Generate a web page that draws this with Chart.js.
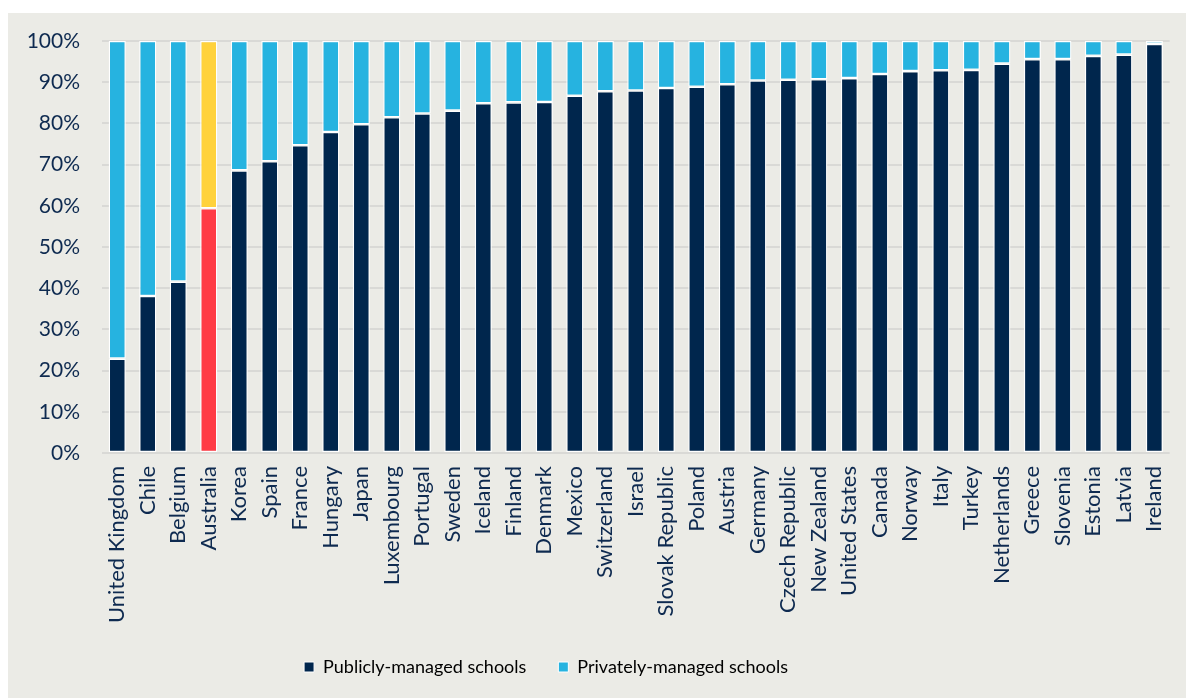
<!DOCTYPE html>
<html>
<head>
<meta charset="utf-8">
<script src="https://cdn.jsdelivr.net/npm/chart.js@4.4.1/dist/chart.umd.min.js"></script>
<style>
  html, body { margin: 0; padding: 0; background: #ffffff; }
  #wrap { position: absolute; left: 8px; top: 13px; width: 1178px; height: 685px; background: #ebebe6; }
  canvas { display: block; }
</style>
</head>
<body>
<div id="wrap"><canvas id="chart" width="1178" height="685"></canvas></div>
<script>
// Countries, ordered by share of students in publicly-managed schools
const countries = [
  "United Kingdom", "Chile", "Belgium", "Australia", "Korea", "Spain", "France",
  "Hungary", "Japan", "Luxembourg", "Portugal", "Sweden", "Iceland", "Finland",
  "Denmark", "Mexico", "Switzerland", "Israel", "Slovak Republic", "Poland",
  "Austria", "Germany", "Czech Republic", "New Zealand", "United States", "Canada",
  "Norway", "Italy", "Turkey", "Netherlands", "Greece", "Slovenia", "Estonia",
  "Latvia", "Ireland"
];

// Share of students in publicly-managed schools (%)
const publicShare = [
  22.9, 38.1, 41.6, 59.4, 68.6, 70.8, 74.7,
  77.9, 79.8, 81.5, 82.4, 83.1, 84.9, 85.1,
  85.2, 86.7, 87.8, 88.0, 88.6, 88.9,
  89.5, 90.4, 90.6, 90.7, 91.0, 92.0,
  92.7, 92.9, 93.0, 94.5, 95.6, 95.6, 96.4,
  96.7, 99.3
];

// Share of students in privately-managed schools (%)
const privateShare = [
  77.1, 61.9, 58.4, 40.6, 31.4, 29.2, 25.3,
  22.1, 20.2, 18.5, 17.6, 16.9, 15.1, 14.9,
  14.8, 13.3, 12.2, 12.0, 11.4, 11.1,
  10.5, 9.6, 9.4, 9.3, 9.0, 8.0,
  7.3, 7.1, 7.0, 5.5, 4.4, 4.4, 3.6,
  3.3, 0.7
];

const yTicks = [0, 10, 20, 30, 40, 50, 60, 70, 80, 90, 100];

const highlighted = "Australia";
const NAVY = "#00264d";
const SKY = "#26b3e0";
const RED = "#ff3b45";
const YELLOW = "#ffd23c";
const TEXT = "#0e2a50";
const FONT = "Lato, 'Open Sans', sans-serif";

function colourFor(base, accent) {
  return (ctx) => (ctx.dataIndex !== undefined && countries[ctx.dataIndex] === highlighted) ? accent : base;
}

// Sits the legend a little left of the canvas centre
const legendOffset = {
  id: "legendOffset",
  afterLayout(chart) {
    if (chart.legend) chart.legend.right -= 86;
  }
};

new Chart(document.getElementById("chart"), {
  type: "bar",
  data: {
    labels: countries,
    datasets: [
      {
        label: "Publicly-managed schools",
        data: publicShare,
        backgroundColor: colourFor(NAVY, RED),
        borderColor: "#ffffff",
        borderWidth: 1.3,
        borderSkipped: false,
        barPercentage: 0.56,
        categoryPercentage: 1.0
      },
      {
        label: "Privately-managed schools",
        data: privateShare,
        backgroundColor: colourFor(SKY, YELLOW),
        borderColor: "#ffffff",
        borderWidth: 1.3,
        borderSkipped: false,
        barPercentage: 0.56,
        categoryPercentage: 1.0
      }
    ]
  },
  plugins: [legendOffset],
  options: {
    responsive: false,
    animation: false,
    devicePixelRatio: 1,
    layout: { padding: { top: 28, right: 16, left: 0, bottom: 12 } },
    plugins: {
      tooltip: { enabled: false },
      legend: {
        position: "bottom",
        labels: {
          color: TEXT,
          font: { family: FONT, size: 18 },
          boxWidth: 10,
          boxHeight: 10,
          padding: 32,
          generateLabels: (chart) => chart.data.datasets.map((ds, i) => ({
            text: ds.label,
            fillStyle: i === 0 ? NAVY : SKY,
            strokeStyle: "#ffffff",
            lineWidth: 1,
            datasetIndex: i
          }))
        }
      }
    },
    scales: {
      x: {
        stacked: true,
        grid: { display: false },
        border: { display: false },
        ticks: {
          color: TEXT,
          font: { family: FONT, size: 22 },
          minRotation: 90,
          maxRotation: 90,
          autoSkip: false,
          padding: 5
        },
        afterFit: (scale) => { scale.height = 173; }
      },
      y: {
        stacked: true,
        min: 0,
        max: 100,
        afterBuildTicks: (scale) => { scale.ticks = yTicks.map(v => ({ value: v })); },
        grid: { color: "#d9d9d6", lineWidth: 2, drawTicks: false },
        border: { display: false },
        ticks: {
          color: TEXT,
          font: { family: FONT, size: 21 },
          padding: 22,
          callback: (v) => v + "%"
        },
        afterFit: (scale) => {
          scale.width = 94;
          scale.paddingTop = 0;
          scale.paddingBottom = 0;
        }
      }
    }
  }
});
</script>
</body>
</html>
